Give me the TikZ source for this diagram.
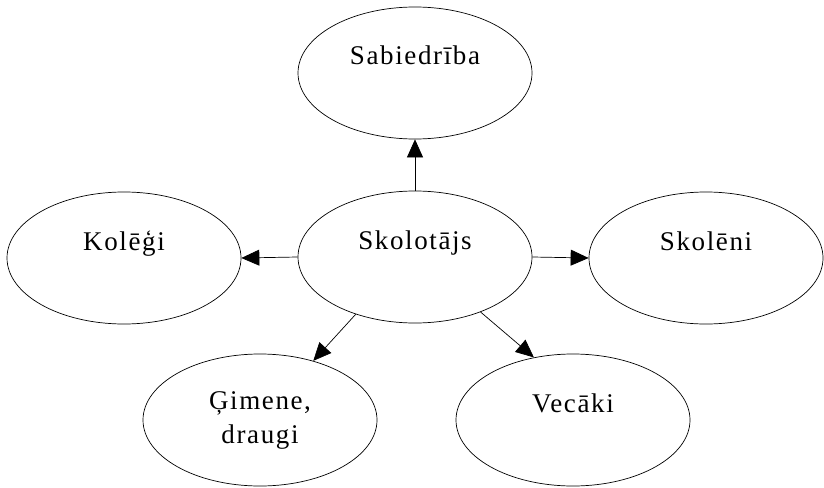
\documentclass[tikz,border=0pt]{standalone}
\usepackage{fontspec}
\setmainfont{Liberation Serif}[LetterSpace=6]
\usetikzlibrary{shapes.geometric, arrows.meta}

\tikzset{
  oval/.style={ellipse, draw, line width=0.7pt, minimum width=234pt, minimum height=132pt,
    font=\fontsize{27}{34}\selectfont, align=center},
  raised/.style={text height=20pt, text depth=36pt},
  link/.style={line width=0.7pt, -{Triangle[length=18pt, width=16pt]}}
}

\begin{document}
\begin{tikzpicture}[x=1pt, y=-1pt]
\useasboundingbox (0, 0) rectangle (824, 487);
% ovals
\node[oval, raised] (sab) at (415, 73) {Sabiedrība};
\node[oval, raised] (sko) at (415, 257) {Skolotājs};
\node[oval, raised] (kol) at (124, 258) {Kolēģi};
\node[oval, raised] (sk) at (706, 258) {Skolēni};
\node[oval] (gim) at (260, 420) {Ģimene,\\draugi};
\node[oval, raised] (vec) at (573, 420) {Vecāki};
% arrows
\draw[link] (sko) -- (sab);
\draw[link] (sko.west) -- (kol.east);
\draw[link] (sko.east) -- (sk.west);
\draw[link] (sko.-136) -- (gim.48);
\draw[link] (sko.-40) -- (vec.122);
\end{tikzpicture}
\end{document}
